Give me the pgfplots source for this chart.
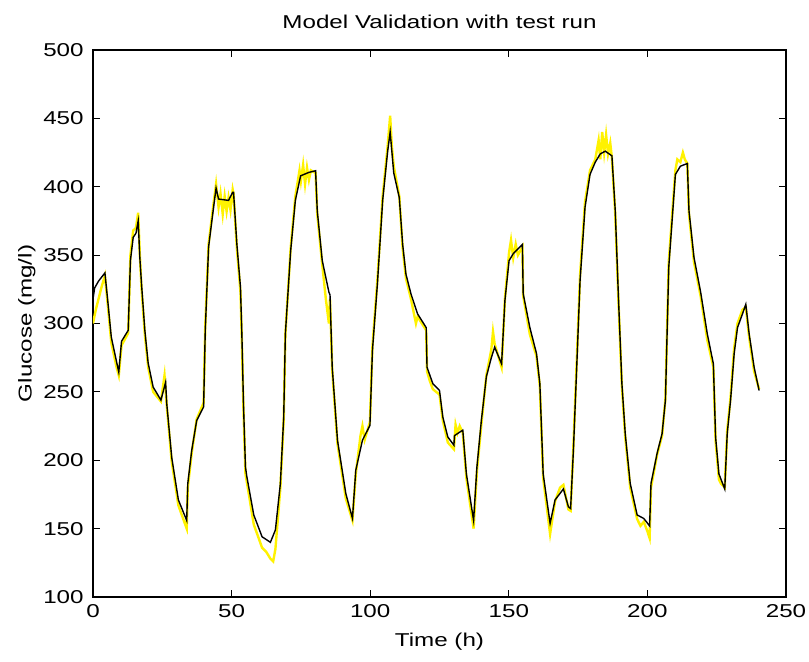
\documentclass[border=0pt]{standalone}
\usepackage{fontspec}
\setmainfont{Liberation Sans}[FakeStretch=1.3]
\usepackage{pgfplots}
\pgfplotsset{compat=1.18}

\newcommand{\chartfont}{\fontsize{9.3}{11}\selectfont}

\begin{document}
\begin{tikzpicture}
\begin{axis}[
  scale only axis,
  width=346.5pt, height=273.5pt,
  xmin=0, xmax=250, ymin=100, ymax=500,
  xtick={0,50,100,150,200,250},
  ytick={100,150,200,250,300,350,400,450,500},
  tick align=inside, tick pos=both,
  major tick length=3.5pt,
  axis line style={line width=0.75pt},
  every tick/.style={black, line width=0.6pt},
  /pgf/number format/assume math mode=true,
  /pgf/number format/1000 sep={},
  tick label style={font=\chartfont},
  xticklabel style={anchor=base, yshift=-10.5pt},
  yticklabel style={anchor=east, inner sep=0pt, xshift=-4.5pt},
  title={Model Validation with test run},
  title style={font=\chartfont, at={(axis description cs:0.5,1.0393)}, anchor=base, yshift=-6pt},
  xlabel={Time (h)},
  xlabel style={font=\chartfont, at={(axis description cs:0.5,-0.0914)}, anchor=base},
  ylabel={Glucose (mg/l)},
  ylabel style={font=\chartfont, at={(axis description cs:-0.0887,0.5)}, anchor=base},
]
% measured (noisy) glucose
\addplot[color=yellow, line width=1.2pt] coordinates {
(0,300) (1,310) (2,318) (3,326) (4.3,335) (5.4,312) (6.6,286) (8.5,268) (9.3,262)
(10.3,284) (12.7,293) (13.5,350) (14.5,368) (15.5,370) (16.3,381) (16.9,350)
(17.5,326) (18.7,292) (19.9,268) (21.7,250) (24.5,243) (25.8,262) (26.6,240)
(28.4,199) (30.8,167) (33.8,150) (34.2,180) (35.6,205) (37.4,230) (39.9,242)
(40.5,298) (41.7,358) (43.5,388) (44.4,402) (45.3,385) (46,395) (46.8,380)
(47.5,393) (48.2,382) (48.9,392) (49.6,383) (50.4,398) (50.7,395) (51.9,355)
(53.2,323) (53.7,288) (54.3,236) (55,190) (55.5,184) (58,153) (61,136) (62.5,133)
(64,128) (65,126) (65.8,135) (67.6,180) (68.8,230) (69.4,292) (71.3,355) (73,393)
(74.5,412) (75,404) (75.8,416) (76.5,402) (77.2,414) (77.9,405) (78.6,412)
(80.3,410) (80.9,380) (82.7,343) (84,318) (85.1,300) (85.5,318) (86.3,266)
(88.2,212) (91.2,172) (93.6,156) (94.8,190) (96.5,218) (97.2,225) (98,215)
(99.9,228) (100.8,283) (102.6,332) (104.5,393) (106.3,430) (107.2,452) (107.8,430)
(108.5,415) (110.5,393) (111.7,355) (112.9,333) (114.7,318) (116.5,300) (117.1,305)
(120.2,295) (120.5,265) (121.5,258) (122.6,252) (125,248) (126.2,229) (128,213)
(130.2,208) (130.8,226) (131.5,220) (132.3,225) (133.4,220) (134.7,187) (137.3,150)
(138.5,192) (140.1,226) (141.9,262) (143.7,281) (144.3,294) (144.9,285) (147.4,268)
(148.6,318) (150.1,352) (150.8,361) (151.6,348) (152.5,358) (153.3,350) (154.9,356)
(155.2,320) (157.6,292) (160,276) (161.2,254) (162.4,187) (164.9,146) (166.7,170)
(168.5,180) (169.7,182) (171.5,164) (172.3,163) (173.3,210) (174.5,272) (175.7,335)
(177.5,389) (179.3,412) (181.2,420) (182.4,434) (183,420) (183.7,440) (184.4,425)
(185.1,438) (185.8,424) (186.6,432) (187.2,421) (188.4,380) (189.6,314) (190.8,254)
(192,217) (193.8,180) (196.3,157) (197.5,152) (198.7,155) (200,148) (200.8,143)
(201.3,180) (203.5,204) (205.3,218) (206.5,245) (207.7,345) (210.1,412) (210.8,420)
(211.9,418) (212.8,425) (213.5,420) (214.4,417) (215,380) (216.8,345) (219.2,320)
(221.6,288) (223.8,268) (224.6,214) (225.8,186) (226.5,183) (227.9,180) (228.8,222)
(230,246) (231.3,282) (232.5,300) (234.3,310) (235.5,312) (236.7,290) (238.5,265)
(240.3,252)
};
% model output
\addplot[color=black, line width=0.7pt] coordinates {
(0,318) (0.6,326) (2,331) (4.3,337) (5.4,315) (6.6,290) (8.5,272) (9.3,264.5)
(10.3,287) (12.7,295) (13.5,346) (14.5,363) (15.5,366) (16.3,375) (16.9,348)
(17.5,329) (18.7,295) (19.9,271) (21.7,253.5) (24.5,244) (26.2,257) (26.6,241.5)
(28.4,202) (30.8,171) (33.8,156) (34.2,183) (35.6,207) (37.4,229) (39.9,239)
(40.5,295) (41.7,356) (43.5,385) (44.4,399) (45.3,391) (48.9,390) (50.4,396)
(50.7,396) (51.9,358) (53.2,326.5) (53.7,292.5) (54.3,240) (55,195) (55.5,188)
(58,160) (61,144) (64,140) (65.8,149) (67.6,183) (68.8,231.6) (69.4,292.5)
(71.3,353) (73,390) (74.9,408) (77.9,410.5) (80.3,411.7) (80.9,382.5) (82.7,346)
(85.1,323) (85.5,321) (86.3,268) (88.2,214.6) (91.2,175.7) (93.6,157.5) (94.8,192.7)
(97.2,214.6) (99.9,225.5) (100.8,280) (102.6,329) (104.5,390) (106.3,426)
(107.2,440) (108.5,410) (110.5,392) (111.7,358) (112.9,336) (114.7,321.7)
(117.1,307) (120.2,297) (120.5,268) (122.6,256) (125,251) (126.2,231.6) (128,217)
(130.2,211) (130.4,218) (133.4,222) (134.7,190) (137.3,156) (138.5,195) (140.1,229)
(141.9,261) (143.7,275) (144.9,282.7) (147.4,270.5) (148.6,316.8) (150.1,346)
(151.6,351) (154.9,357.7) (155.2,321.7) (157.6,297) (160,278) (161.2,256)
(162.4,190) (164.9,153.8) (166.7,171) (169.7,179) (171.5,166) (172.3,164.7)
(173.3,207) (174.5,268) (175.7,331) (177.5,385) (179.3,409) (181.2,418) (183,424)
(184.8,426) (187.2,422.6) (188.4,382.5) (189.6,316.8) (190.8,256) (192,219.5)
(193.8,183) (196.3,160) (198.7,157.4) (200.8,152) (201.3,183) (203.5,205)
(205.3,219.5) (206.5,243.8) (207.7,341) (210.1,409) (211.9,415) (214.4,417)
(215,382.5) (216.8,348.4) (219.2,323) (221.6,292.5) (223.8,270.5) (224.6,217)
(225.8,190) (227.9,179) (228.8,219.5) (230,243.8) (231.3,278) (232.5,297)
(234.3,307) (235.5,314) (236.7,292.5) (238.5,268) (240.3,251)
};
\end{axis}
\pgfresetboundingbox
\path (current axis.south west) ++(-46.5pt,-32.5pt) coordinate (bbA);
\path (current axis.north east) ++(11.5pt,25pt) coordinate (bbB);
\path[use as bounding box] (bbA) rectangle (bbB);
\end{tikzpicture}
\end{document}
